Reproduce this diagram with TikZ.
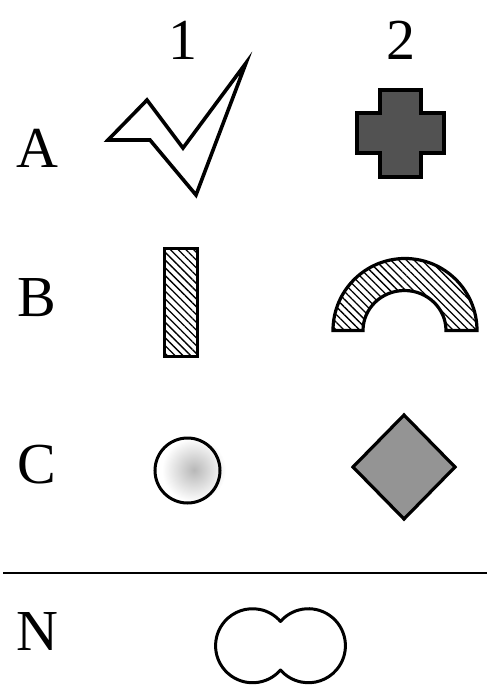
\documentclass[tikz,border=0pt]{standalone}
\usepackage{fontspec}
\setmainfont{Liberation Serif}
\usetikzlibrary{patterns.meta,shapes.geometric}
\begin{document}
\begin{tikzpicture}[x=1pt,y=-1pt,
  lbl/.style={font=\fontsize{58}{60}\selectfont,inner sep=0pt},
  outl/.style={draw=black,line width=3.2pt,line join=miter},
  hatch/.style={pattern={Lines[angle=-45,distance=5.5pt,line width=1.3pt]}}]
\useasboundingbox (0,0) rectangle (487,686);
% headers and row labels
\node[lbl] (h1) at (183,40) {1};
\node[lbl] (h2) at (401,40) {2};
\node[lbl] (la) at (37,148) {A};
\node[lbl] (lb) at (37,298) {B};
\node[lbl] (lc) at (37,465) {C};
\node[lbl] (ln) at (37,632) {N};
% A1 check mark
\draw[outl,fill=white,line width=3.6pt] (246,63) -- (183,148) -- (147,100) -- (108,140) -- (150,140) -- (196,195) -- cycle;
% A2 cross
\draw[outl,fill=black!68,line width=4.5pt] (380,90) -- (421,90) -- (421,113) -- (444,113) -- (444,153) -- (421,153) -- (421,177) -- (380,177) -- (380,153) -- (357,153) -- (357,113) -- (380,113) -- cycle;
% B1 rectangle
\draw[outl,hatch] (164.5,248.5) rectangle (197.5,356.5);
% B2 half ring
\draw[outl,hatch] (333,330.5) arc[start angle=180,end angle=360,x radius=72,y radius=72] -- (446,330.5) arc[start angle=360,end angle=180,x radius=41.5,y radius=40] -- cycle;
% C1 circle
\shade[inner color=black!28,outer color=white,shading=radial] (194,470) circle[radius=32];
\draw[outl,line width=3pt] (187.5,470.5) circle[radius=32.5];
% C2 diamond
\draw[outl,fill=black!42] (404,415) -- (455,467) -- (404,519) -- (353,467) -- cycle;
% separator
\draw[line width=2pt] (3,573) -- (487,573);
% N double circle
\draw[outl,line width=3pt,line join=round] (280.5,670) arc[start angle=41,end angle=319,radius=37] arc[start angle=221,end angle=499,radius=37] -- cycle;
\end{tikzpicture}
\end{document}
